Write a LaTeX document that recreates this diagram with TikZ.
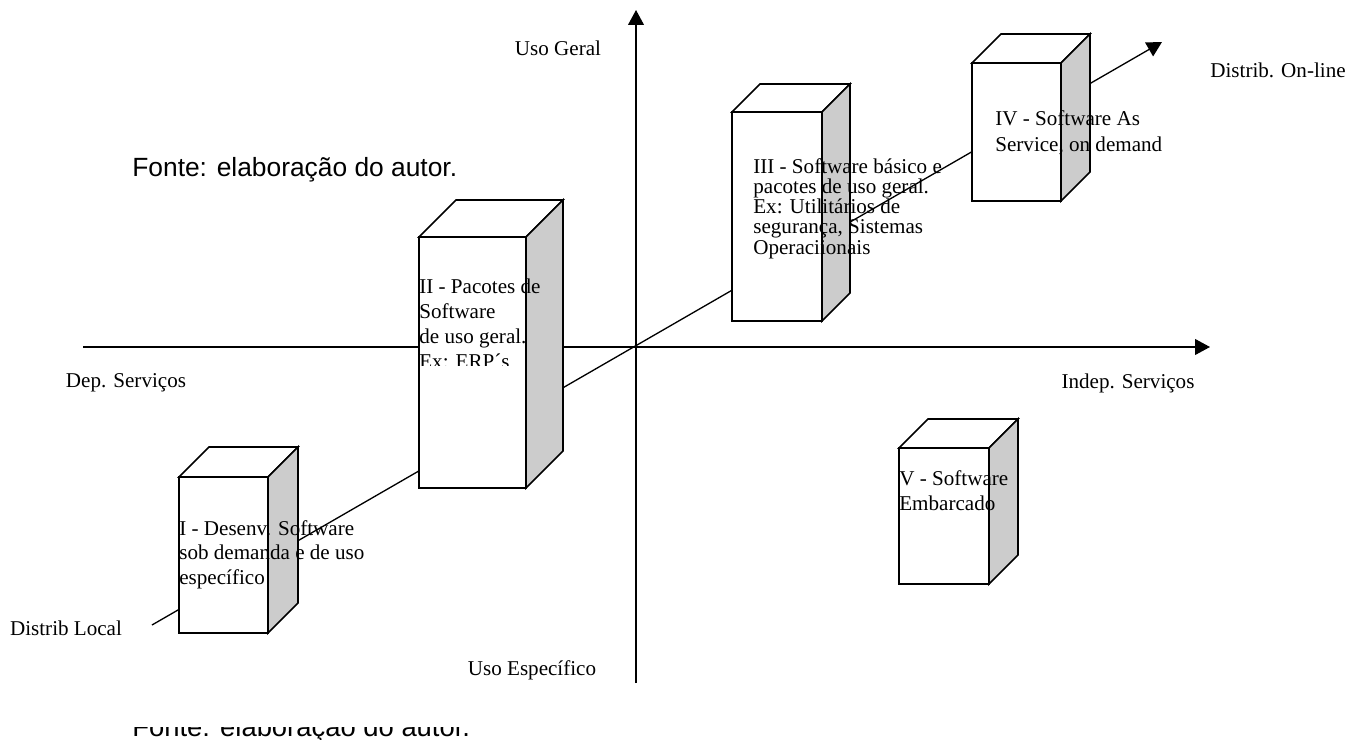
\documentclass[tikz,border=0pt]{standalone}
\usepackage{fontspec}
\setmainfont{Liberation Serif}
\newfontfamily\arialfont{Liberation Sans}
\usetikzlibrary{arrows.meta}
\definecolor{lateral}{HTML}{CCCCCC}
\tikzstyle{eixo} = [line width=0.75pt,-{Triangle[length=8.5pt,width=9pt]}]

% bloco: x, topo, largura, altura, profundidade
\newcommand{\bloco}[5]{%
  \draw[caixa,fill=white] (#1,#2) rectangle ++(#3,#4);
  \draw[caixa,fill=white] (#1,#2) -- ++(#5,-#5) -- ++(#3,0) -- ++(-#5,#5) -- cycle;
  \draw[caixa,fill=lateral] (#1+#3,#2) -- ++(#5,-#5) -- ++(0,#4) -- ++(-#5,#5) -- cycle;
}

\begin{document}
\begin{tikzpicture}
        [
            x=0.02cm, y=-0.02cm,
            caixa/.style={draw=black,line width=0.9pt,line join=miter},
            rotulo/.style={font=\fontsize{12}{14}\selectfont,inner sep=0pt},
            texto/.style={rotulo,anchor=north west,align=left},
            fonte/.style={font=\arialfont\fontsize{15.6}{18}\selectfont,anchor=base west,inner sep=0pt},
        ]

    \useasboundingbox (0,0) rectangle (1362,740);

    % eixos
    \coordinate (esq) at (83,347);
    \coordinate (dir) at (1210,347);
    \coordinate (baixo) at (636,683);
    \coordinate (cima) at (636,10);
    \draw[eixo] (esq) -- (dir);
    \draw[eixo] (baixo) -- (cima);

    % distribuicao local -> on-line
    \coordinate (local) at (152,625);
    \coordinate (online) at (1162,42);
    \draw[eixo] (local) -- (online);

    % blocos
    \bloco{179}{477}{89}{156}{30}
    \bloco{419}{237}{107}{251}{37}
    \bloco{732}{112}{90}{209}{28}
    \bloco{972}{63}{89}{138}{29}
    \bloco{899}{448}{90}{136}{29}

    % textos dos blocos
    \node[texto,font=\fontsize{12}{13.9}\selectfont] (txti) at (179,520) {I - Desenv. Software\\sob demanda e de uso\\específico};
    \begin{scope}
        \clip (400,230) rectangle (620,365);
        \node[texto,font=\fontsize{12}{14.2}\selectfont] (txtii) at (419,278.5) {II - Pacotes de\\Software\\de uso geral.\\Ex: ERP´s};
    \end{scope}
    \node[texto,font=\fontsize{12}{11.5}\selectfont] (txtiii) at (753,158) {III - Software básico e\\pacotes de uso geral.\\Ex: Utilitários de\\segurança, Sistemas\\Operaciionais};
    \node[texto,font=\fontsize{12}{14.7}\selectfont] (txtiv) at (995,110) {IV - Software As\\Service, on demand};
    \node[texto,font=\fontsize{12}{14.2}\selectfont] (txtv) at (899,470.5) {V - Software\\Embarcado};

    % rotulos dos eixos
    \node[rotulo] (usogeral) at (558,48) {Uso Geral};
    \node[rotulo] (usoesp) at (532,670) {Uso Específico};
    \node[rotulo] (dep) at (126,383) {Dep. Serviços};
    \node[rotulo] (indep) at (1128,383) {Indep. Serviços};
    \node[rotulo] (distonline) at (1278,70) {Distrib. On-line};
    \node[rotulo] (distlocal) at (66,628) {Distrib Local};

    % fonte
    \node[fonte,font=\arialfont\fontsize{15}{18}\selectfont] (fonte) at (132,176) {Fonte: elaboração do autor.};
    \begin{scope}
        \clip (0,727) rectangle (1362,740);
        \node[fonte] (fonterodape) at (132,736) {Fonte: elaboração do autor.};
    \end{scope}
\end{tikzpicture}
\end{document}
